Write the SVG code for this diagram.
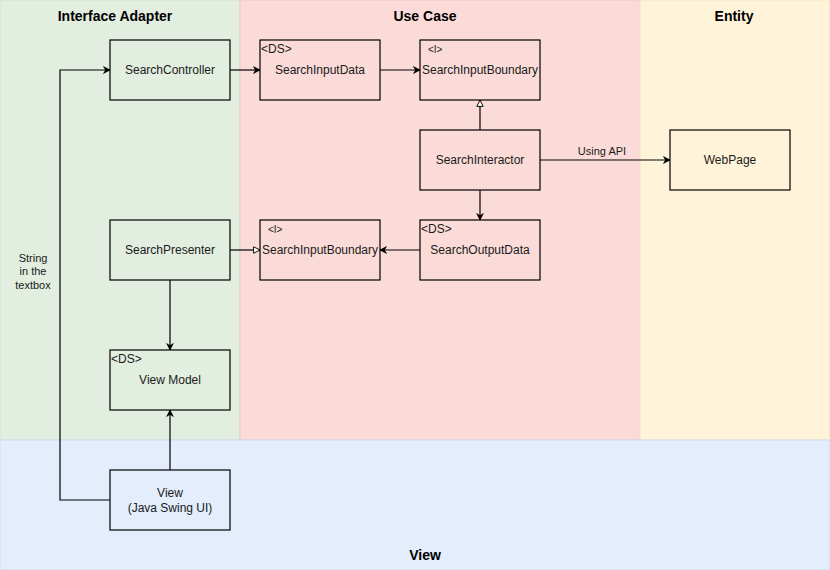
<svg xmlns="http://www.w3.org/2000/svg" width="830" height="570" viewBox="0 0 830 570">
<style>
text{font-family:"Liberation Sans",Arial,sans-serif;fill:#1a1a1a}
.t{font-size:14px;font-weight:bold;text-anchor:middle;fill:#000}
.n rect{stroke:#000;stroke-width:1.2}
.lbl{font-size:12px;text-anchor:middle}
.el{font-size:11px;text-anchor:middle}
.st{font-size:12px}
.si{font-size:10px}
.c{fill:none;stroke:#000;stroke-width:1.2}
</style>
<defs>
<marker id="a" viewBox="0 0 10 10" refX="9" refY="5" markerWidth="8" markerHeight="8" markerUnits="userSpaceOnUse" orient="auto">
<path d="M0,0 L10,5 L0,10 L3,5 Z" fill="#000"/>
</marker>
<marker id="h" viewBox="0 0 10 10" refX="9" refY="5" markerWidth="8" markerHeight="8" markerUnits="userSpaceOnUse" orient="auto">
<path d="M1,1 L9,5 L1,9 Z" fill="#fff" stroke="#000" stroke-width="1.2"/>
</marker>
</defs>
<g id="lanes">
<rect x="0" y="0" width="240" height="440" fill="#e2eee0" stroke="#d3e3d0"/>
<rect x="240" y="0" width="400" height="440" fill="#fadbd8" stroke="#f2c9c4"/>
<rect x="640" y="0" width="190" height="440" fill="#fff4d9" stroke="#f5e6bf"/>
<rect x="0" y="440" width="830" height="130" fill="#e3edfc" stroke="#cfdcef"/>
<text class="t" x="115" y="21">Interface Adapter</text>
<text class="t" x="425" y="21">Use Case</text>
<text class="t" x="734" y="21">Entity</text>
<text class="t" x="425" y="560">View</text>
</g>
<g id="connectors">
<path class="c" d="M230,70 H260" marker-end="url(#a)"/>
<path class="c" d="M380,70 H420" stroke="#444" marker-end="url(#a)"/>
<path class="c" d="M480,130 V100" marker-end="url(#h)"/>
<path class="c" d="M540,160 H670" marker-end="url(#a)"/>
<text class="el" x="602" y="155">Using API</text>
<path class="c" d="M480,190 V220" marker-end="url(#a)"/>
<path class="c" d="M420,250 H380" marker-end="url(#a)"/>
<path class="c" d="M230,250 H260" marker-end="url(#h)"/>
<path class="c" d="M170,280 V350" marker-end="url(#a)"/>
<path class="c" d="M170,470 V410" marker-end="url(#a)"/>
<path class="c" d="M110,500 H60 V70 H110" marker-end="url(#a)"/>
<text class="el" x="33" y="262">String</text>
<text class="el" x="33" y="275">in the</text>
<text class="el" x="33" y="289">textbox</text>
</g>
<g id="SearchController" class="n"><rect x="110" y="40" width="120" height="60" fill="#e2eee0"/><text class="lbl" x="170" y="74">SearchController</text></g>
<g id="SearchInputData" class="n"><rect x="260" y="40" width="120" height="60" fill="#fadbd8"/><text class="st" x="261" y="53">&lt;DS&gt;</text><text class="lbl" x="320" y="74">SearchInputData</text></g>
<g id="SearchInputBoundary" class="n"><rect x="420" y="40" width="120" height="60" fill="#fadbd8"/><text class="si" x="428" y="53">&lt;I&gt;</text><text class="lbl" x="480" y="74">SearchInputBoundary</text></g>
<g id="SearchInteractor" class="n"><rect x="420" y="130" width="120" height="60" fill="#fadbd8"/><text class="lbl" x="480" y="164">SearchInteractor</text></g>
<g id="WebPage" class="n"><rect x="670" y="130" width="120" height="60" fill="#fff4d9"/><text class="lbl" x="730" y="164">WebPage</text></g>
<g id="SearchPresenter" class="n"><rect x="110" y="220" width="120" height="60" fill="#e2eee0"/><text class="lbl" x="170" y="254">SearchPresenter</text></g>
<g id="SearchInputBoundary2" class="n"><rect x="260" y="220" width="120" height="60" fill="#fadbd8"/><text class="si" x="268" y="233">&lt;I&gt;</text><text class="lbl" x="320" y="254">SearchInputBoundary</text></g>
<g id="SearchOutputData" class="n"><rect x="420" y="220" width="120" height="60" fill="#fadbd8"/><text class="st" x="421" y="233">&lt;DS&gt;</text><text class="lbl" x="480" y="254">SearchOutputData</text></g>
<g id="ViewModel" class="n"><rect x="110" y="350" width="120" height="60" fill="#e2eee0"/><text class="st" x="111" y="363">&lt;DS&gt;</text><text class="lbl" x="170" y="384">View Model</text></g>
<g id="View" class="n"><rect x="110" y="470" width="120" height="60" fill="#e3edfc"/><text class="lbl" x="170" y="497">View</text><text class="lbl" x="170" y="512">(Java Swing UI)</text></g>
</svg>
